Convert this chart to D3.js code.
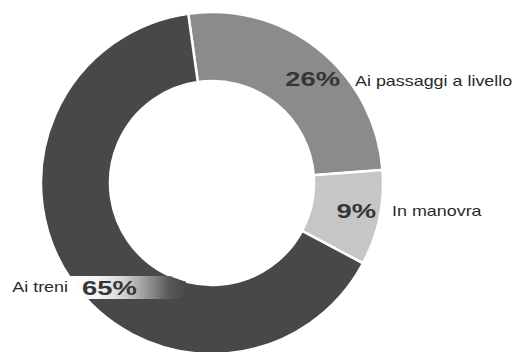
<!DOCTYPE html>
<html>
<head>
<meta charset="utf-8">
<script src="https://cdn.jsdelivr.net/npm/d3@7"></script>
<style>
  body { margin: 0; background: #fff; }
  svg { display: block; }
  text { font-family: "Liberation Sans", Arial, sans-serif; }
</style>
</head>
<body>
<svg id="chart" width="516" height="352"></svg>
<script>
// data
const categories = ["Ai passaggi a livello", "In manovra", "Ai treni"];
const values = [26, 9, 65];
const shades = ["#8b8b8b", "#c6c6c6", "#484848"];

const width = 516, height = 352;
const cx = 212, cy = 183;
const outerR = 171, innerR = 102;

let svg = d3.select('#chart');

let pie = d3.pie()
  .sort(null)
  .value(d => d)
  .startAngle(-8 * Math.PI / 180)
  .endAngle(352 * Math.PI / 180);

let arc = d3.arc()
  .innerRadius(innerR)
  .outerRadius(outerR);

let color = d3.scaleOrdinal()
  .domain(categories)
  .range(shades);

let arcs = pie(values);

let g = svg.append('g')
  .attr('transform', `translate(${cx},${cy})`);

g.selectAll('path')
  .data(arcs)
  .join('path')
  .attr('d', arc)
  .attr('fill', (d, i) => color(categories[i]))
  .attr('stroke', '#fff')
  .attr('stroke-width', 2.5);

// gradient band behind the 65% label, clipped to the ring
let defs = svg.append('defs');
defs.append('clipPath')
  .attr('id', 'ring')
  .append('path')
  .attr('transform', `translate(${cx},${cy})`)
  .attr('d', arc({ startAngle: 0, endAngle: 2 * Math.PI }));

let grad = defs.append('linearGradient')
  .attr('id', 'band')
  .attr('x1', '0%').attr('x2', '100%')
  .attr('y1', '0%').attr('y2', '0%');
grad.append('stop').attr('offset', '0%').attr('stop-color', '#ffffff');
grad.append('stop').attr('offset', '25%').attr('stop-color', '#f4f4f4');
grad.append('stop').attr('offset', '45%').attr('stop-color', '#d6d6d6');
grad.append('stop').attr('offset', '65%').attr('stop-color', '#9a9a9a');
grad.append('stop').attr('offset', '85%').attr('stop-color', '#5a5a5a');
grad.append('stop').attr('offset', '100%').attr('stop-color', '#484848');

svg.append('rect')
  .attr('x', 70).attr('y', 276)
  .attr('width', 116).attr('height', 23)
  .attr('fill', 'url(#band)')
  .attr('clip-path', 'url(#ring)');

// label anchors (percent end/start, name start/end)
const labelPos = [
  { px: 340, py: 86, pAnchor: 'end', nx: 355, ny: 86, nAnchor: 'start' },
  { px: 376, py: 218, pAnchor: 'end', nx: 392, ny: 216, nAnchor: 'start' },
  { px: 82, py: 295, pAnchor: 'start', nx: 68, ny: 292, nAnchor: 'end' }
];

const sx = 1.37, sxName = 1.28;

labelPos.forEach((p, i) => {
  svg.append('text')
    .attr('transform', `translate(${p.px},${p.py}) scale(${sx},1)`)
    .attr('text-anchor', p.pAnchor)
    .attr('font-size', 20)
    .attr('font-weight', 'bold')
    .attr('fill', '#363636')
    .text(values[i] + '%');

  svg.append('text')
    .attr('transform', `translate(${p.nx},${p.ny}) scale(${sxName},1)`)
    .attr('text-anchor', p.nAnchor)
    .attr('font-size', 14)
    .attr('fill', '#2a2a2a')
    .text(categories[i]);
});
</script>
</body>
</html>
